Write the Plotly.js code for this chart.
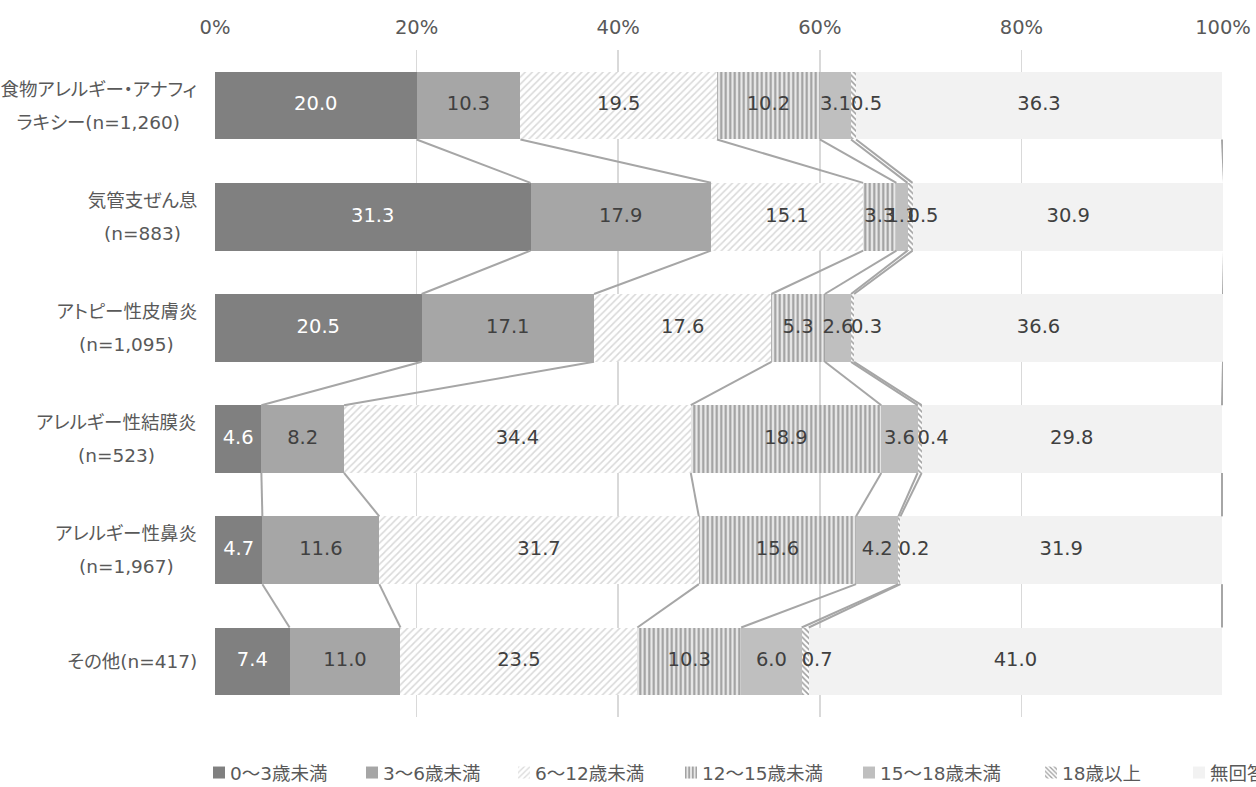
<!DOCTYPE html>
<html>
<head>
<meta charset="utf-8">
<script src="https://cdn.plot.ly/plotly-3.0.1.min.js"></script>
<style>
html,body{margin:0;padding:0;background:#fff;}
#chart{width:1256px;height:787px;}
#chart text{font-feature-settings:"palt";}
#measure{position:absolute;left:-9999px;top:-9999px;white-space:nowrap;font-feature-settings:"palt";visibility:hidden;}
</style>
</head>
<body>
<div id="chart"></div>
<span id="measure"></span>
<script>
// ---- data ----
var categoryLine1 = ["食物アレルギー・アナフィ", "気管支ぜん息", "アトピー性皮膚炎", "アレルギー性結膜炎", "アレルギー性鼻炎", "その他(n=417)"];
var categoryLine2 = ["ラキシー(n=1,260)", "(n=883)", "(n=1,095)", "(n=523)", "(n=1,967)", ""];
var seriesNames = ["0～3歳未満", "3～6歳未満", "6～12歳未満", "12～15歳未満", "15～18歳未満", "18歳以上", "無回答"];
var age0to3   = [20.0, 31.3, 20.5, 4.6, 4.7, 7.4];
var age3to6   = [10.3, 17.9, 17.1, 8.2, 11.6, 11.0];
var age6to12  = [19.5, 15.1, 17.6, 34.4, 31.7, 23.5];
var age12to15 = [10.2, 3.3, 5.3, 18.9, 15.6, 10.3];
var age15to18 = [3.1, 1.1, 2.6, 3.6, 4.2, 6.0];
var age18plus = [0.5, 0.5, 0.3, 0.4, 0.2, 0.7];
var noAnswer  = [36.3, 30.9, 36.6, 29.8, 31.9, 41.0];
var xTickVals = [0, 20, 40, 60, 80, 100];
var xTickText = ["0%", "20%", "40%", "60%", "80%", "100%"];

var seriesValues = [age0to3, age3to6, age6to12, age12to15, age15to18, age18plus, noAnswer];

// ---- styles ----
var FONT = '"DejaVu Sans", "Noto Sans CJK JP", sans-serif';
var FS = 19.5;      // numbers
var FSC = 18.5;     // category labels
var FSL = 18.5;     // legend
var BARW = 0.61;
var styles = [
  {color: '#808080', text: '#ffffff'},
  {color: '#a6a6a6', text: '#404040'},
  {color: '#ffffff', text: '#404040', pattern: {shape: '/', fgcolor: '#d9d9d9', bgcolor: '#ffffff', size: 5, solidity: 0.3}},
  {color: '#e8e8e8', text: '#404040', pattern: {shape: '|', fgcolor: '#9c9c9c', bgcolor: '#e8e8e8', size: 4.5, solidity: 0.45}},
  {color: '#bfbfbf', text: '#404040'},
  {color: '#ffffff', text: '#404040', pattern: {shape: '\\', fgcolor: '#a0a0a0', bgcolor: '#ffffff', size: 4, solidity: 0.4}, anchor: 'start'},
  {color: '#f2f2f2', text: '#404040'}
];
var legendTextStart = [230, 383, 535, 702, 880, 1062, 1210];

var yIdx = categoryLine1.map(function(_, i){ return i; });
var nCat = yIdx.length;
var traces = [];

var cum = yIdx.map(function(i){
  var s = 0; return seriesValues.map(function(arr){ s += arr[i]; return s; });
});

// series lines (connectors between stacked segments)
for (var k = 0; k < seriesValues.length; k++) {
  var lx = [], ly = [];
  for (var i = 0; i < nCat - 1; i++) {
    lx.push(cum[i][k], cum[i+1][k], null);
    ly.push(i + BARW/2, i + 1 - BARW/2, null);
  }
  traces.push({type: 'scatter', mode: 'lines', x: lx, y: ly, showlegend: false, hoverinfo: 'skip',
    line: {color: '#a6a6a6', width: 2}, cliponaxis: false});
}

var layoutLegends = {};
seriesValues.forEach(function(vals, s) {
  var st = styles[s];
  var marker = {color: st.color, line: {width: 0}};
  if (st.pattern) marker.pattern = st.pattern;
  var lname = s === 0 ? 'legend' : 'legend' + (s + 1);
  traces.push({
    type: 'bar', orientation: 'h', name: seriesNames[s],
    x: vals, y: yIdx, width: BARW, marker: marker,
    legend: lname, hoverinfo: 'x+name'
  });
  layoutLegends[lname] = {
    orientation: 'h', xref: 'container', yref: 'container',
    x: (legendTextStart[s] - 40) / 1256, xanchor: 'left',
    y: 1 - 773/787, yanchor: 'middle',
    font: {family: FONT, size: FSL, color: '#595959'},
    bgcolor: 'rgba(0,0,0,0)', borderwidth: 0, itemwidth: 30
  };
});

// data labels drawn on top of all bars
seriesValues.forEach(function(vals, s) {
  var st = styles[s];
  var start = st.anchor === 'start';
  traces.push({
    type: 'scatter', mode: 'text', showlegend: false, hoverinfo: 'skip', cliponaxis: false,
    x: vals.map(function(v, i){ return start ? cum[i][s] - v : cum[i][s] - v / 2; }),
    y: yIdx,
    text: vals.map(function(v){ return v.toFixed(1); }),
    textposition: start ? 'middle right' : 'middle center',
    textfont: {family: FONT, size: FS, color: st.text}
  });
});

// category labels (two centered lines, block right-aligned)
var meas = document.getElementById('measure');
meas.style.fontFamily = FONT;
meas.style.fontSize = FSC + 'px';
function textWidth(t) { meas.textContent = t; return meas.getBoundingClientRect().width; }
var annotations = [];
var RIGHT = 197, PLOTL = 215;
yIdx.forEach(function(i) {
  var l1 = categoryLine1[i], l2 = categoryLine2[i];
  var w = Math.max(textWidth(l1), l2 ? textWidth(l2) : 0);
  var cx = RIGHT - w / 2;
  var lines = l2 ? [[l1, 16.5], [l2, -16.5]] : [[l1, 0]];
  lines.forEach(function(p) {
    annotations.push({xref: 'paper', x: 0, xanchor: 'center', xshift: cx - PLOTL,
      yref: 'y', y: i, yanchor: 'middle', yshift: p[1], text: p[0], showarrow: false,
      font: {family: FONT, size: FSC, color: '#595959'}});
  });
});
meas.parentNode.removeChild(meas);

var layout = Object.assign({
  width: 1256, height: 787,
  margin: {l: 215, r: 33, t: 50, b: 70},
  paper_bgcolor: '#ffffff', plot_bgcolor: '#ffffff',
  barmode: 'stack', bargap: 0.39,
  font: {family: FONT, size: FS, color: '#595959'},
  xaxis: {range: [0, 100], side: 'top', tickvals: xTickVals, ticktext: xTickText,
    showgrid: true, gridcolor: '#d9d9d9', gridwidth: 1.5, zeroline: false, showline: false,
    ticks: '', ticklabelstandoff: 11, tickfont: {family: FONT, size: FS, color: '#595959'}, fixedrange: true},
  yaxis: {range: [nCat - 0.5, -0.5], showticklabels: false, showgrid: false, zeroline: false,
    showline: false, ticks: '', fixedrange: true},
  annotations: annotations,
  showlegend: true
}, layoutLegends);

Plotly.newPlot('chart', traces, layout, {displayModeBar: false, staticPlot: true}).then(function(){
  // pull legend swatches closer to their texts
  document.querySelectorAll('#chart .legendsymbols').forEach(function(g){
    var t = g.getAttribute('transform') || '';
    g.setAttribute('transform', t + ' translate(9,0)');
  });
});
</script>
</body>
</html>
